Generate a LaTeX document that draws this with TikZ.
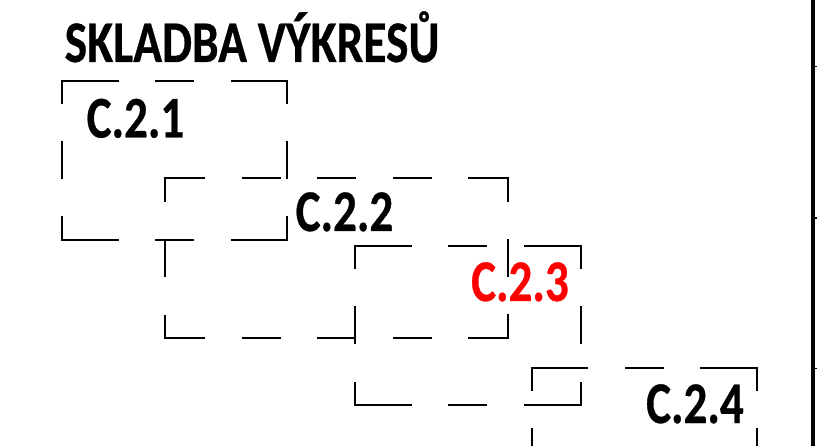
\documentclass[tikz,border=0pt]{standalone}
\usepackage{fontspec}
\setmainfont{Carlito}[BoldFeatures={FakeBold=0.6}]
\tikzset{
  ln/.style={line width=1.5pt,black,line cap=butt,line join=miter},
  framelbl/.style={inner sep=0pt,anchor=base west,font=\bfseries\fontsize{46.5}{50}\selectfont,xscale=1.01,yscale=1.27},
  titlelbl/.style={inner sep=0pt,anchor=base west,font=\bfseries\fontsize{46.5}{50}\selectfont,xscale=1.022,yscale=1.27},
}
\begin{document}
\begin{tikzpicture}[x=1pt,y=-1pt]
\useasboundingbox (0,0) rectangle (817,446);
% frame C.2.1
\draw[ln] (62,104)--(62,81)--(118.5,81) (155,81)--(194,81) (231,81)--(287,81)--(287,104)
 (62,141)--(62,179) (287,141)--(287,179)
 (62,216)--(62,240)--(118.5,240) (155,240)--(194,240) (231,240)--(287,240)--(287,216);
% frame C.2.2
\draw[ln] (165,202)--(165,178)--(205,178) (242,178)--(281,178) (317,178)--(356,178) (393,178)--(432,178) (468,178)--(508,178)--(508,202)
 (165,240)--(165,277.5) (508,239)--(508,277)
 (165,315)--(165,338)--(205,338) (242,338)--(281,338) (317,338)--(356,338) (393,338)--(432,338) (468,338)--(508,338)--(508,314);
% frame C.2.3
\draw[ln] (355,269)--(355,246)--(412,246) (448,246)--(487,246) (524,246)--(581,246)--(581,269)
 (355,306)--(355,344.5) (581,306)--(581,344.5)
 (355,382)--(355,405)--(412,405) (448,405)--(487,405) (524,405)--(581,405)--(581,382);
% frame C.2.4
\draw[ln] (532,391)--(532,368)--(588,368) (625,368)--(664,368) (700,368)--(757,368)--(757,391)
 (532,428)--(532,446) (757,428)--(757,446);
% right border
\draw[line width=4.7pt] (813,0)--(813,446);
\draw[line width=1pt] (813,67)--(817,67) (813,369)--(817,369);
\draw[line width=2.5pt] (813,218)--(817,218);
% labels
\node[titlelbl] (title) at (64.5,62) {SKLADBA VÝKRESŮ};
\node[framelbl] (a) at (86.5,137.5) {C.2.1};
\node[framelbl] (b) at (295.5,231) {C.2.2};
\node[framelbl,text=red] (c) at (471,301) {C.2.3};
\node[framelbl] (d) at (646,423) {C.2.4};
\end{tikzpicture}
\end{document}
